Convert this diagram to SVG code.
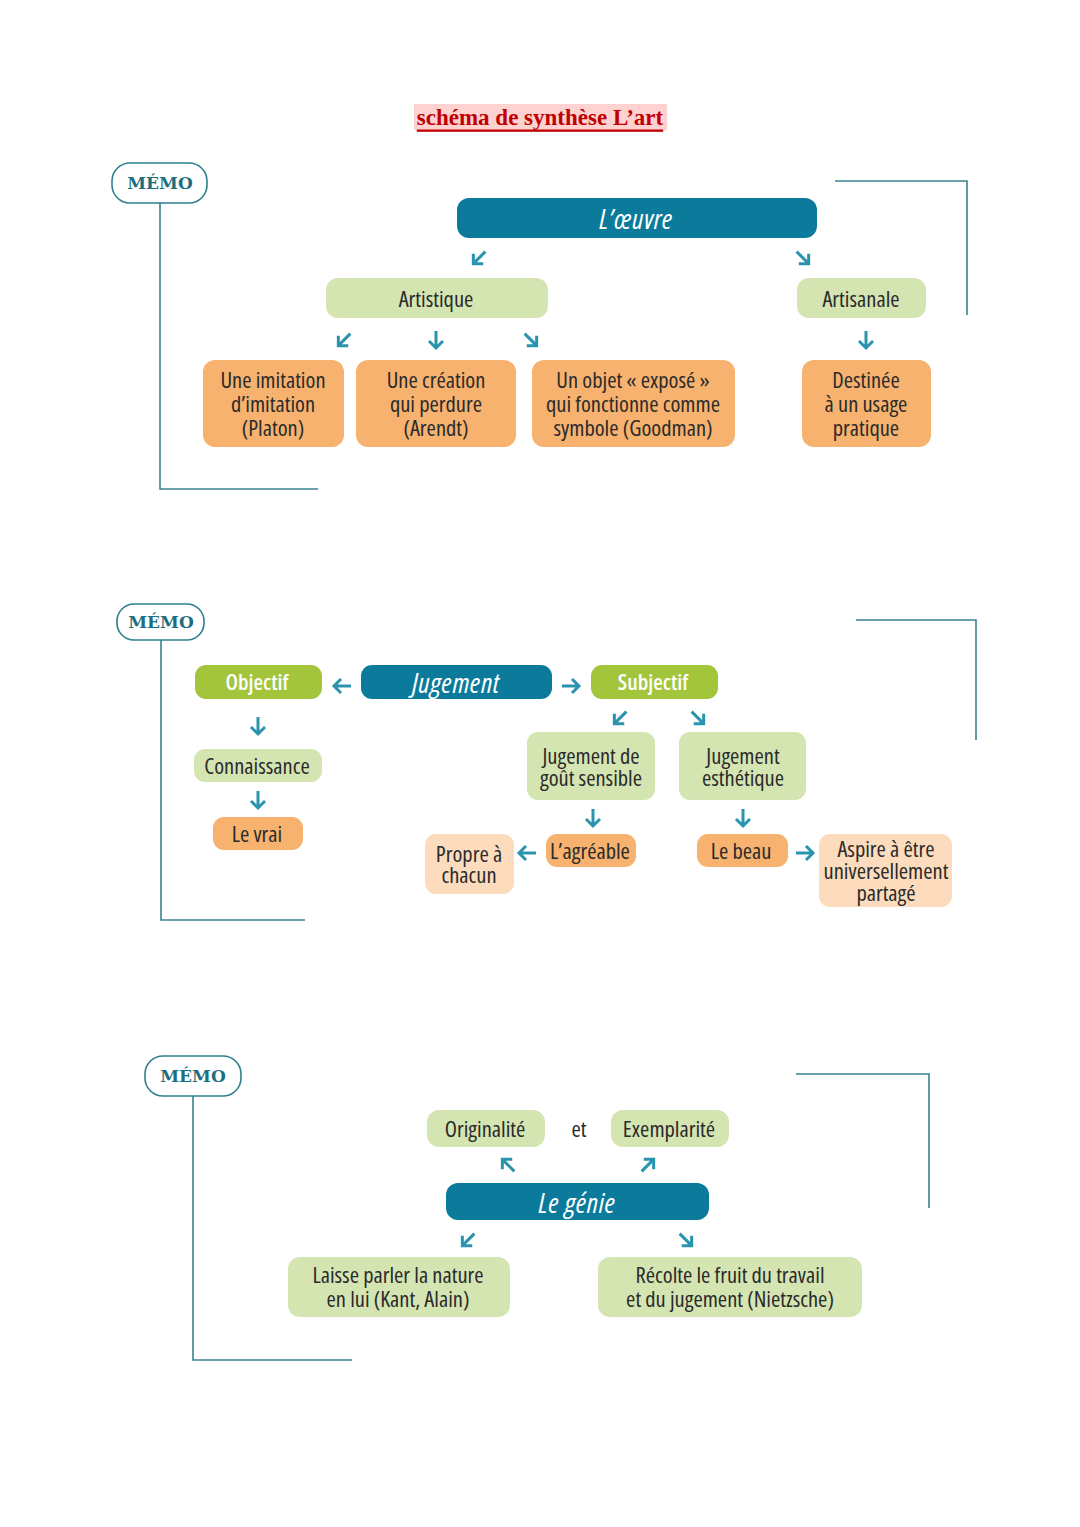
<svg xmlns="http://www.w3.org/2000/svg" xmlns:xlink="http://www.w3.org/1999/xlink" width="1080" height="1527" viewBox="0 0 1080 1527">
<style>
.t{font-family:"Open Sans","DejaVu Sans",sans-serif;font-stretch:condensed;font-size:22.5px;fill:#2b2b2b;text-anchor:middle;dominant-baseline:central}
.w{fill:#fff;font-style:italic;font-size:28px;letter-spacing:0.5px}
.wb{fill:#fff;font-weight:600;font-size:22px}
.teal{fill:#0c7b9b}
.lg{fill:#d5e5b2}
.or{fill:#f6b26e}
.pe{fill:#fcdcbc}
.bg{fill:#a2c53c}
.memo{fill:#fff;stroke:#2e7f8e;stroke-width:1.6}
.mt{font-family:"DejaVu Serif","Liberation Serif",serif;font-weight:bold;font-size:17px;fill:#1d6f80;text-anchor:middle;dominant-baseline:central}
.br{fill:none;stroke:#3a8290;stroke-width:1.6}
.ar{fill:none;stroke:#2a93ae;stroke-width:3;stroke-linecap:butt;stroke-linejoin:miter}
</style>
<defs>
<g id="ad"><path class="ar" d="M0,-9 V8 M-7,1 L0,8 L7,1"/></g>
</defs>
<rect width="1080" height="1527" fill="#fff"/>
<g id="title">
<rect x="414" y="104" width="253" height="26" fill="#ffd2d2"/>
<text x="540" y="117" font-family="Liberation Serif,serif" font-weight="bold" font-size="23" fill="#c00000" text-anchor="middle" dominant-baseline="central" text-decoration="underline">schéma de synthèse L’art</text>
</g>
<g id="frames">
<path class="br" d="M160,203 V489 H318"/>
<path class="br" d="M835,181 H967 V315"/>
<path class="br" d="M161,640 V920 H305"/>
<path class="br" d="M856,620 H976 V740"/>
<path class="br" d="M193,1096 V1360 H352"/>
<path class="br" d="M796,1074 H929 V1208"/>
</g>
<g id="memo1"><rect class="memo" x="112" y="163" width="95" height="40" rx="18"/><text class="mt" x="160" y="183">MÉMO</text></g>
<g id="memo2"><rect class="memo" x="117" y="604" width="87" height="36" rx="17"/><text class="mt" x="161" y="622">MÉMO</text></g>
<g id="memo3"><rect class="memo" x="145" y="1056" width="96" height="40" rx="18"/><text class="mt" x="193" y="1076">MÉMO</text></g>
<g id="connectors">
<use xlink:href="#ad" transform="translate(479,258) rotate(45)"/>
<use xlink:href="#ad" transform="translate(803,258) rotate(-45)"/>
<use xlink:href="#ad" transform="translate(344,340) rotate(45)"/>
<use xlink:href="#ad" transform="translate(436,340)"/>
<use xlink:href="#ad" transform="translate(531,340) rotate(-45)"/>
<use xlink:href="#ad" transform="translate(866,340)"/>
<use xlink:href="#ad" transform="translate(342,686) rotate(90)"/>
<use xlink:href="#ad" transform="translate(571,686) rotate(-90)"/>
<use xlink:href="#ad" transform="translate(258,726)"/>
<use xlink:href="#ad" transform="translate(258,800)"/>
<use xlink:href="#ad" transform="translate(620,718) rotate(45)"/>
<use xlink:href="#ad" transform="translate(698,718) rotate(-45)"/>
<use xlink:href="#ad" transform="translate(593,818)"/>
<use xlink:href="#ad" transform="translate(743,818)"/>
<use xlink:href="#ad" transform="translate(527,853) rotate(90)"/>
<use xlink:href="#ad" transform="translate(805,853) rotate(-90)"/>
<use xlink:href="#ad" transform="translate(508,1165) rotate(135)"/>
<use xlink:href="#ad" transform="translate(648,1165) rotate(-135)"/>
<use xlink:href="#ad" transform="translate(468,1240) rotate(45)"/>
<use xlink:href="#ad" transform="translate(686,1240) rotate(-45)"/>
</g>
<g id="oeuvre"><rect class="teal" x="457" y="198" width="360" height="40" rx="12"/><text class="t w" x="636" y="218">L’œuvre</text></g>
<g id="artistique"><rect class="lg" x="326" y="278" width="222" height="40" rx="12"/><text class="t" x="436" y="298">Artistique</text></g>
<g id="artisanale"><rect class="lg" x="797" y="278" width="129" height="40" rx="12"/><text class="t" x="861" y="298">Artisanale</text></g>
<g id="imitation"><rect class="or" x="203" y="360" width="141" height="87" rx="12"/><text class="t" x="273" y="379">Une imitation</text><text class="t" x="273" y="403">d’imitation</text><text class="t" x="273" y="427">(Platon)</text></g>
<g id="creation"><rect class="or" x="356" y="360" width="160" height="87" rx="12"/><text class="t" x="436" y="379">Une création</text><text class="t" x="436" y="403">qui perdure</text><text class="t" x="436" y="427">(Arendt)</text></g>
<g id="objet"><rect class="or" x="532" y="360" width="203" height="87" rx="12"/><text class="t" x="633" y="379">Un objet « exposé »</text><text class="t" x="633" y="403">qui fonctionne comme</text><text class="t" x="633" y="427">symbole (Goodman)</text></g>
<g id="destinee"><rect class="or" x="802" y="360" width="129" height="87" rx="12"/><text class="t" x="866" y="379">Destinée</text><text class="t" x="866" y="403">à un usage</text><text class="t" x="866" y="427">pratique</text></g>
<g id="objectif"><rect class="bg" x="195" y="665" width="127" height="34" rx="11"/><text class="t wb" x="257" y="681">Objectif</text></g>
<g id="jugement"><rect class="teal" x="361" y="665" width="191" height="34" rx="11"/><text class="t w" x="456" y="682">Jugement</text></g>
<g id="subjectif"><rect class="bg" x="591" y="665" width="127" height="34" rx="11"/><text class="t wb" x="653" y="681">Subjectif</text></g>
<g id="connaissance"><rect class="lg" x="194" y="749" width="128" height="33" rx="11"/><text class="t" x="257" y="765">Connaissance</text></g>
<g id="vrai"><rect class="or" x="213" y="817" width="90" height="33" rx="11"/><text class="t" x="257" y="833">Le vrai</text></g>
<g id="gout"><rect class="lg" x="527" y="732" width="128" height="68" rx="11"/><text class="t" x="591" y="755">Jugement de</text><text class="t" x="591" y="777">goût sensible</text></g>
<g id="esthetique"><rect class="lg" x="679" y="732" width="127" height="68" rx="11"/><text class="t" x="743" y="755">Jugement</text><text class="t" x="743" y="777">esthétique</text></g>
<g id="agreable"><rect class="or" x="546" y="834" width="90" height="33" rx="11"/><text class="t" x="590" y="850">L’agréable</text></g>
<g id="propre"><rect class="pe" x="425" y="834" width="89" height="60" rx="11"/><text class="t" x="469" y="853">Propre à</text><text class="t" x="469" y="874">chacun</text></g>
<g id="beau"><rect class="or" x="697" y="834" width="91" height="33" rx="11"/><text class="t" x="741" y="850">Le beau</text></g>
<g id="aspire"><rect class="pe" x="819" y="834" width="133" height="73" rx="11"/><text class="t" x="886" y="848">Aspire à être</text><text class="t" x="886" y="870">universellement</text><text class="t" x="886" y="892">partagé</text></g>
<g id="originalite"><rect class="lg" x="427" y="1110" width="118" height="37" rx="12"/><text class="t" x="485" y="1128">Originalité</text></g>
<g id="et"><text class="t" x="579" y="1128">et</text></g>
<g id="exemplarite"><rect class="lg" x="611" y="1110" width="118" height="37" rx="12"/><text class="t" x="669" y="1128">Exemplarité</text></g>
<g id="genie"><rect class="teal" x="446" y="1183" width="263" height="37" rx="12"/><text class="t w" x="577" y="1202">Le génie</text></g>
<g id="laisse"><rect class="lg" x="288" y="1257" width="222" height="60" rx="12"/><text class="t" x="398" y="1274">Laisse parler la nature</text><text class="t" x="398" y="1298">en lui (Kant, Alain)</text></g>
<g id="recolte"><rect class="lg" x="598" y="1257" width="264" height="60" rx="12"/><text class="t" x="730" y="1274">Récolte le fruit du travail</text><text class="t" x="730" y="1298">et du jugement (Nietzsche)</text></g>
</svg>
